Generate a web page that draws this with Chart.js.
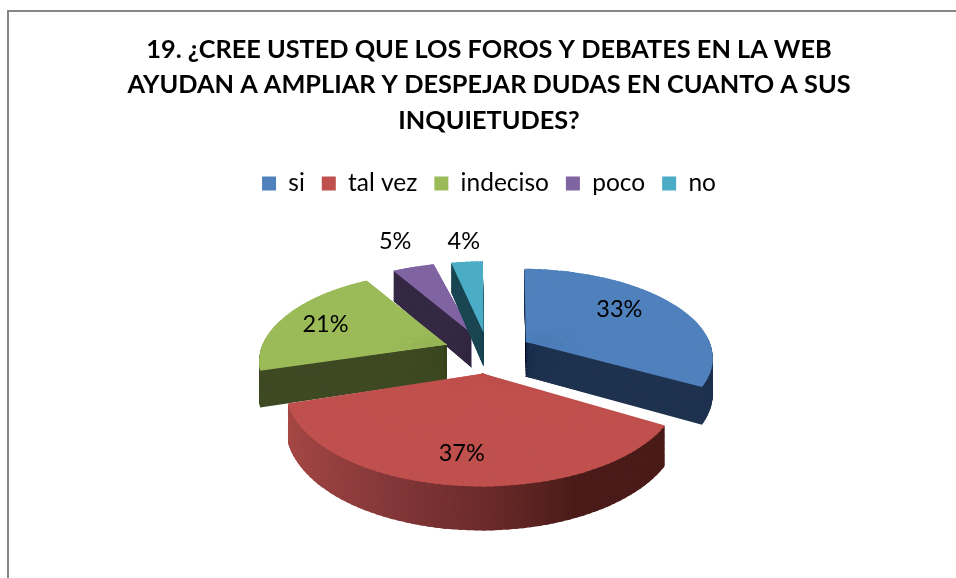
<!DOCTYPE html>
<html>
<head>
<meta charset="utf-8">
<script src="https://cdn.jsdelivr.net/npm/chart.js@4/dist/chart.umd.min.js"></script>
<style>
html,body{margin:0;padding:0;background:#fff;overflow:hidden}
#wrap{position:relative;width:956px;height:578px}
#frame{position:absolute;left:7px;top:10px;right:0;bottom:0;border-left:2px solid #868686;border-top:2px solid #868686;pointer-events:none}
canvas{position:absolute;left:0;top:0}
</style>
</head>
<body>
<div id="wrap"><canvas id="c" width="956" height="578"></canvas><div id="frame"></div></div>
<script>
const titleLines = ['19. ¿CREE USTED QUE LOS FOROS Y DEBATES EN LA WEB','AYUDAN A AMPLIAR Y DESPEJAR DUDAS EN CUANTO A SUS','INQUIETUDES?'];
const categories = ['si','tal vez','indeciso','poco','no'];
const values = [33,37,21,5,4];
const topColors = ['#4F81BD','#C0504D','#9BBB59','#8064A2','#4BACC6'];
const wallColors = ['#1F3350',null,'#3F4A24','#362A45','#1D4855'];
const redWallStops = [[-1,[168,74,71]],[-0.45,[133,56,58]],[0,[107,43,42]],[0.38,[75,28,26]],[1,[75,28,26]]];
const labelRadius = [0.688,0.748,0.733,1.454,1.346];
const labelTurn = [-6.8,0.7,-1.4,1.1,0.4];
const drawOrder = [3,4,2,0,1];

// 3D view of the pie plane: perspective projection
const view = {cx:488, cy:352, a:187, b:87.6, k:0.157, depth:35.5};
const project = (x,y,z) => { const w = 1 - view.k*y; return {x:view.cx + view.a*x/w, y:view.cy + (view.b*y + view.depth*z)/w}; };
const STEP = 2*Math.PI/180, OVER = 0.6*Math.PI/180;

function wallColor(i, X){
  if (wallColors[i]) return wallColors[i];
  const s = redWallStops;
  for (let n=0;n<s.length-1;n++){
    if (X<=s[n+1][0]){
      const t=Math.max(0,(X-s[n][0])/(s[n+1][0]-s[n][0]));
      const c=s[n][1].map((v,j)=>Math.round(v+(s[n+1][1][j]-v)*t));
      return `rgb(${c[0]},${c[1]},${c[2]})`;
    }
  }
  return '#4B1C1A';
}

function drawWedge(ctx, arc, a, b, z, fill){
  const R = arc.outerRadius, h = (arc.startAngle+arc.endAngle)/2, e = (arc.options.offset||0)/4;
  // the arc element widens narrow exploded slices by this amount when it draws them
  const circ = arc.endAngle-arc.startAngle;
  const Rd = R + e*(1-Math.sin(Math.min(Math.PI,circ)));
  const ox = Math.cos(h)*e, oy = Math.sin(h)*e;
  const s0=[arc.x+ox,arc.y+oy];
  const s1=[s0[0]+Rd*Math.cos(a),s0[1]+Rd*Math.sin(a)], s2=[s0[0]+Rd*Math.cos(b),s0[1]+Rd*Math.sin(b)];
  const dest=(t,r)=>project(ox/R+r*Math.cos(t),oy/R+r*Math.sin(t),z);
  const d0=dest(0,0), d1=dest(a,1), d2=dest(b,1);
  const c1=dest(a-OVER,1.12), c2=dest(b+OVER,1.12);
  const mid=(a+b)/2, c0=dest(mid,-0.04);
  // affine map from the source triangle to the projected triangle
  const ux=s1[0]-s0[0], uy=s1[1]-s0[1], vx=s2[0]-s0[0], vy=s2[1]-s0[1];
  const det=ux*vy-vx*uy;
  const pux=d1.x-d0.x, puy=d1.y-d0.y, pvx=d2.x-d0.x, pvy=d2.y-d0.y;
  const A=(pux*vy-pvx*uy)/det, C=(pvx*ux-pux*vx)/det;
  const B=(puy*vy-pvy*uy)/det, D=(pvy*ux-puy*vx)/det;
  const E=d0.x-A*s0[0]-C*s0[1], F=d0.y-B*s0[0]-D*s0[1];
  ctx.save();
  ctx.beginPath();
  ctx.moveTo(c0.x,c0.y); ctx.lineTo(c1.x,c1.y); ctx.lineTo(c2.x,c2.y); ctx.closePath();
  ctx.clip();
  ctx.transform(A,B,C,D,E,F);
  const saved = arc.options;
  arc.options = Object.create(saved,{backgroundColor:{value:fill}});
  arc.draw(ctx);
  arc.options = saved;
  ctx.restore();
}

const pie3d = {
  id:'pie3d',
  beforeDatasetDraw(chart, args){
    const ctx = chart.ctx, arcs = chart.getDatasetMeta(args.index).data;
    for (const i of drawOrder){
      const arc = arcs[i], n = Math.max(1,Math.ceil((arc.endAngle-arc.startAngle)/STEP));
      const da = (arc.endAngle-arc.startAngle)/n;
      const h = (arc.startAngle+arc.endAngle)/2, e=(arc.options.offset||0)/4, R=arc.outerRadius;
      const levels = 46;
      for (let l=levels;l>=1;l--){
        for (let k=0;k<n;k++){
          const a = arc.startAngle+k*da, b=a+da, m=(a+b)/2;
          const X = Math.cos(m)+Math.cos(h)*e/R;
          drawWedge(ctx,arc,a,b,l/levels,wallColor(i,X));
        }
      }
      for (let k=0;k<n;k++){
        const a = arc.startAngle+k*da;
        drawWedge(ctx,arc,a,a+da,0,topColors[i]);
      }
    }
    // percentage labels
    ctx.save();
    ctx.fillStyle='#000';
    ctx.font='23.5px Lato';
    ctx.textAlign='center';
    ctx.textBaseline='middle';
    arcs.forEach((arc,i)=>{
      const h=(arc.startAngle+arc.endAngle)/2, e=(arc.options.offset||0)/4, R=arc.outerRadius;
      const r=labelRadius[i], t=h+labelTurn[i]*Math.PI/180;
      const p=project(Math.cos(h)*e/R+r*Math.cos(t),Math.sin(h)*e/R+r*Math.sin(t),0);
      ctx.fillText(values[i]+'%',p.x,p.y);
    });
    ctx.restore();
    return false;
  }
};

new Chart(document.getElementById('c'),{
  type:'pie',
  data:{labels:categories,datasets:[{data:values,backgroundColor:topColors,borderWidth:0,offset:120,hoverOffset:120}]},
  plugins:[pie3d],
  options:{
    responsive:false,
    animation:false,
    rotation:1,
    layout:{padding:{left:22,top:32,right:0,bottom:0}},
    plugins:{
      tooltip:{enabled:false},
      title:{display:true,text:titleLines,color:'#000',font:{family:'Lato',size:25.3,weight:'bold',lineHeight:1.4},padding:{top:0,bottom:16}},
      legend:{position:'top',labels:{color:'#000',font:{family:'Lato',size:24.5},boxWidth:14,boxHeight:14,padding:17}}
    }
  }
});
</script>
</body>
</html>
